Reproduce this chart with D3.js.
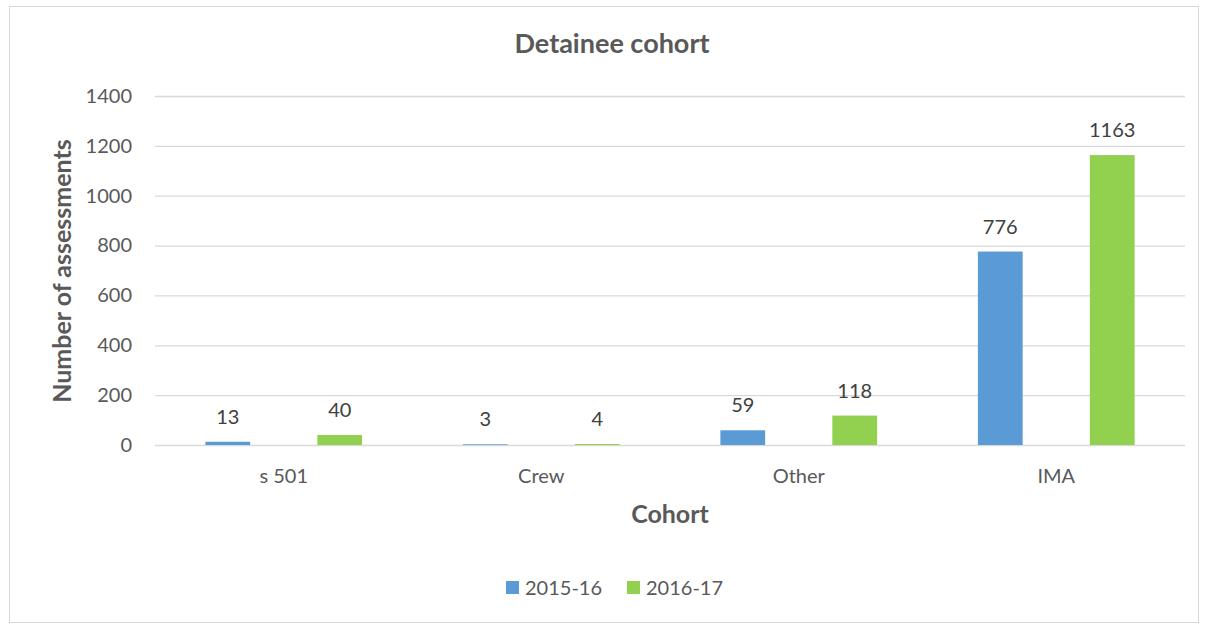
<!DOCTYPE html>
<html><head><meta charset="utf-8">
<script src="https://cdn.jsdelivr.net/npm/d3@7"></script>
<style>body{margin:0;background:#fff}svg{display:block;font-family:Lato,"Open Sans",sans-serif}</style>
</head><body><svg id="c" width="1208" height="625"></svg>
<script>
const categories = ["s 501", "Crew", "Other", "IMA"];
const series = ["2015-16", "2016-17"];
const values2015 = [13, 3, 59, 776];
const values2016 = [40, 4, 118, 1163];
const yTicks = [0, 200, 400, 600, 800, 1000, 1200, 1400];
const colors = ["#5B9BD5", "#92D050"];

const svg = d3.select("#c");
const txt = "#595959";
const m = {left: 155, right: 1185, top: 96, bottom: 445};

svg.append("rect").attr("x", 9.5).attr("y", 6.5).attr("width", 1189).attr("height", 616)
  .attr("fill", "#fff").attr("stroke", "#d9d9d9").attr("stroke-width", 1);

const x = d3.scaleBand().domain(categories).range([m.left, m.right]).paddingInner(0).paddingOuter(0);
const y = d3.scaleLinear().domain([0, 1400]).range([m.bottom, m.top]);
const bw = x.bandwidth();
const xs = d3.scaleBand().domain(series).range([0, bw]).paddingInner(0.6).paddingOuter(0.45);

// gridlines
const gy = svg.append("g").attr("transform", `translate(${m.left},0)`)
  .call(d3.axisLeft(y).tickValues(yTicks).tickFormat(d3.format("d"))
    .tickSize(-(m.right - m.left)).tickPadding(23));
gy.select(".domain").remove();
gy.selectAll(".tick line").attr("stroke", "#d9d9d9").attr("stroke-width", 1.3);
gy.selectAll(".tick text").attr("fill", txt).attr("font-size", 20).attr("font-family", "Lato");

const data = categories.map((c, i) => ({c, vals: [values2015[i], values2016[i]]}));
const grp = svg.append("g").selectAll("g").data(data).join("g")
  .attr("transform", d => `translate(${x(d.c)},0)`);
grp.selectAll("rect").data(d => d.vals.map((v, j) => ({s: series[j], v, j}))).join("rect")
  .attr("x", d => xs(d.s)).attr("width", xs.bandwidth())
  .attr("y", d => y(d.v)).attr("height", d => y(0) - y(d.v))
  .attr("fill", d => colors[d.j]);
grp.selectAll("text").data(d => d.vals.map((v, j) => ({s: series[j], v, j}))).join("text")
  .attr("x", d => xs(d.s) + xs.bandwidth() / 2).attr("y", d => y(d.v) - 18)
  .attr("text-anchor", "middle").attr("fill", "#404040").attr("font-size", 20)
  .text(d => d.v);

// x axis labels
const gx = svg.append("g").attr("transform", `translate(0,${m.bottom})`)
  .call(d3.axisBottom(x).tickSize(0).tickPadding(24));
gx.select(".domain").remove();
gx.selectAll(".tick text").attr("fill", txt).attr("font-size", 20).attr("font-family", "Lato");

svg.append("text").attr("x", 612).attr("y", 53).attr("text-anchor", "middle")
  .attr("font-size", 27).attr("font-weight", "bold").attr("fill", txt).text("Detainee cohort");
svg.append("text").attr("x", (m.left + m.right) / 2).attr("y", 523).attr("text-anchor", "middle")
  .attr("font-size", 25).attr("font-weight", "bold").attr("fill", txt).text("Cohort");
svg.append("text").attr("transform", `translate(71,271) rotate(-90)`).attr("text-anchor", "middle")
  .attr("font-size", 25).attr("font-weight", "bold").attr("fill", txt).text("Number of assessments");

// legend
const lx = [506, 627];
const lg = svg.append("g").selectAll("g").data(series).join("g")
  .attr("transform", (d, i) => `translate(${lx[i]},581)`);
lg.append("rect").attr("width", 13).attr("height", 13).attr("fill", (d, i) => colors[i]);
lg.append("text").attr("x", 19).attr("y", 14).attr("font-size", 20).attr("fill", txt).text(d => d);
</script></body></html>
